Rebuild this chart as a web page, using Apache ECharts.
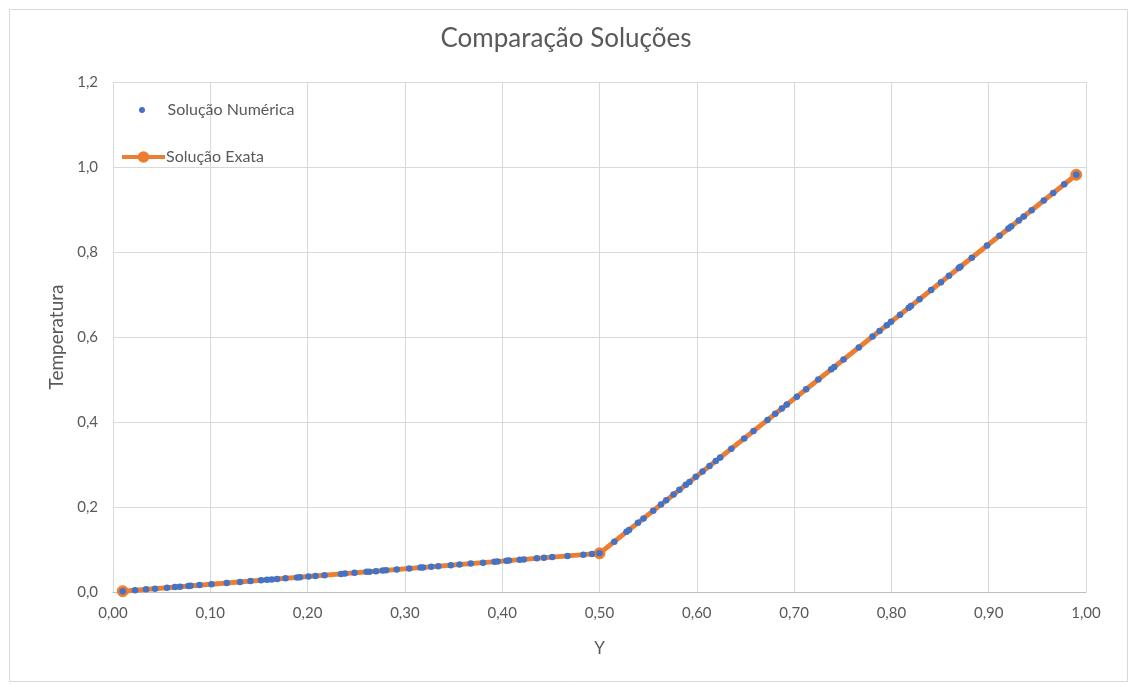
<!DOCTYPE html>
<html>
<head>
<meta charset="utf-8">
<script src="https://cdn.jsdelivr.net/npm/echarts@6/dist/echarts.min.js"></script>
<style>
html,body{margin:0;padding:0;background:#fff;}
#c{width:1132px;height:686px;}
</style>
</head>
<body>
<div id="c"></div>
<script>
const title = "Comparação Soluções";
const xName = "Y";
const yName = "Temperatura";
const seriesNames = ["Solução Numérica", "Solução Exata"];

// Numerical solution
const numX = [0.01,0.0226,0.0339,0.0432,0.0555,0.0637,0.0689,0.0776,0.0797,0.0889,0.1012,0.1169,0.1305,0.1413,0.1521,0.1583,0.1631,0.1686,0.1773,0.1891,0.1922,0.2009,0.2081,0.2174,0.2343,0.2384,0.2482,0.2607,0.2636,0.2703,0.2772,0.2806,0.2916,0.3044,0.3160,0.3186,0.3271,0.3343,0.3472,0.3561,0.3677,0.3803,0.3921,0.3952,0.4044,0.4070,0.4180,0.4221,0.4355,0.4430,0.4514,0.4671,0.4834,0.4923,0.50,
0.5152,0.5278,0.5303,0.5396,0.5452,0.5552,0.5632,0.5686,0.5761,0.5822,0.5887,0.5925,0.5990,0.6059,0.6131,0.6195,0.6241,0.6355,0.6487,0.6583,0.6727,0.6806,0.6874,0.6925,0.7028,0.7124,0.7249,0.7382,0.7413,0.7508,0.7665,0.7806,0.7878,0.7953,0.7996,0.8089,0.8179,0.8201,0.8289,0.8409,0.8510,0.8592,0.8693,0.8710,0.8826,0.8983,0.9111,0.9203,0.9231,0.9309,0.9361,0.9442,0.9566,0.9663,0.9776,0.99];
const numT = [0.0018,0.0041,0.0062,0.0079,0.0101,0.0116,0.0125,0.0141,0.0145,0.0162,0.0184,0.0213,0.0237,0.0257,0.0277,0.0288,0.0297,0.0307,0.0322,0.0344,0.0349,0.0365,0.0378,0.0395,0.0426,0.0433,0.0451,0.0474,0.0479,0.0491,0.0504,0.0510,0.0530,0.0553,0.0575,0.0579,0.0595,0.0608,0.0631,0.0647,0.0669,0.0691,0.0713,0.0719,0.0735,0.0740,0.0760,0.0767,0.0792,0.0805,0.0821,0.0849,0.0879,0.0895,0.0909,
0.1185,0.1415,0.1460,0.1629,0.1731,0.1912,0.2058,0.2156,0.2293,0.2403,0.2522,0.2591,0.2709,0.2834,0.2965,0.3082,0.3165,0.3373,0.3613,0.3787,0.4049,0.4193,0.4316,0.4409,0.4596,0.4771,0.4998,0.5240,0.5296,0.5469,0.5755,0.6011,0.6142,0.6278,0.6356,0.6525,0.6689,0.6729,0.6889,0.7107,0.7291,0.7440,0.7623,0.7654,0.7865,0.8151,0.8383,0.8551,0.8602,0.8743,0.8838,0.8985,0.9211,0.9387,0.9593,0.9818];

// Exact solution
const exactX = [0.01, 0.50, 0.99];
const exactT = [0.0018, 0.0909, 0.9818];

const numData = numX.map((x, i) => [x, numT[i]]);
const exactData = exactX.map((x, i) => [x, exactT[i]]);

const FONT = "Lato";
const TXT = "#595959";

const chart = echarts.init(document.getElementById('c'), null, {renderer: 'canvas'});
chart.setOption({
  animation: false,
  backgroundColor: '#ffffff',
  textStyle: {fontFamily: FONT},
  title: {
    text: title, left: 'center', top: 21,
    textStyle: {fontFamily: FONT, fontSize: 26, fontWeight: 'normal', color: TXT}
  },
  graphic: [{
    type: 'rect', left: 7, top: 7, z: 100,
    shape: {width: 1118, height: 672},
    style: {fill: 'none', stroke: '#d9d9d9', lineWidth: 1}
  }],
  legend: [{
    data: [{name: seriesNames[0], icon: 'circle'}],
    orient: 'vertical', left: 134, top: 97,
    itemWidth: 45, itemHeight: 6, itemGap: 4,
    textStyle: {fontFamily: FONT, fontSize: 16, color: TXT, padding: [0,0,0,-2]}
  }, {
    data: [{name: seriesNames[1]}],
    orient: 'vertical', left: 115, top: 144,
    itemWidth: 43, itemHeight: 12,
    lineStyle: {width: 4},
    textStyle: {fontFamily: FONT, fontSize: 16, color: TXT, padding: [0,0,0,-4]}
  }],
  grid: {left: 113, right: 46, top: 82, bottom: 94, containLabel: false},
  xAxis: {
    type: 'value', min: 0, max: 1, interval: 0.1,
    name: xName, nameLocation: 'middle', nameGap: 48,
    nameTextStyle: {fontFamily: FONT, fontSize: 17, color: TXT},
    axisLine: {show: true, lineStyle: {color: '#bfbfbf', width: 1}},
    axisTick: {show: false},
    axisLabel: {fontFamily: FONT, fontSize: 15, color: TXT, margin: 14,
      formatter: v => v.toFixed(2).replace('.', ',')},
    splitLine: {show: true, lineStyle: {color: '#d9d9d9', width: 1}}
  },
  yAxis: {
    type: 'value', min: 0, max: 1.2, interval: 0.2,
    name: yName, nameLocation: 'middle', nameGap: 47, nameRotate: 90,
    nameTextStyle: {fontFamily: FONT, fontSize: 19, color: TXT},
    axisLine: {show: false},
    axisTick: {show: false},
    axisLabel: {fontFamily: FONT, fontSize: 15, color: TXT, margin: 15,
      formatter: v => v.toFixed(1).replace('.', ',')},
    splitLine: {show: true, lineStyle: {color: '#d9d9d9', width: 1}}
  },
  series: [{
    name: seriesNames[0], type: 'scatter', data: numData, z: 3,
    symbol: 'circle', symbolSize: 6.5,
    itemStyle: {color: '#4472C4', opacity: 1}
  }, {
    name: seriesNames[1], type: 'line', data: exactData, z: 2,
    symbol: 'circle', symbolSize: 11, showAllSymbol: true,
    lineStyle: {color: '#ED7D31', width: 5},
    itemStyle: {color: '#ED7D31', borderColor: '#ED7D31', borderWidth: 1}
  }]
});
</script>
</body>
</html>
